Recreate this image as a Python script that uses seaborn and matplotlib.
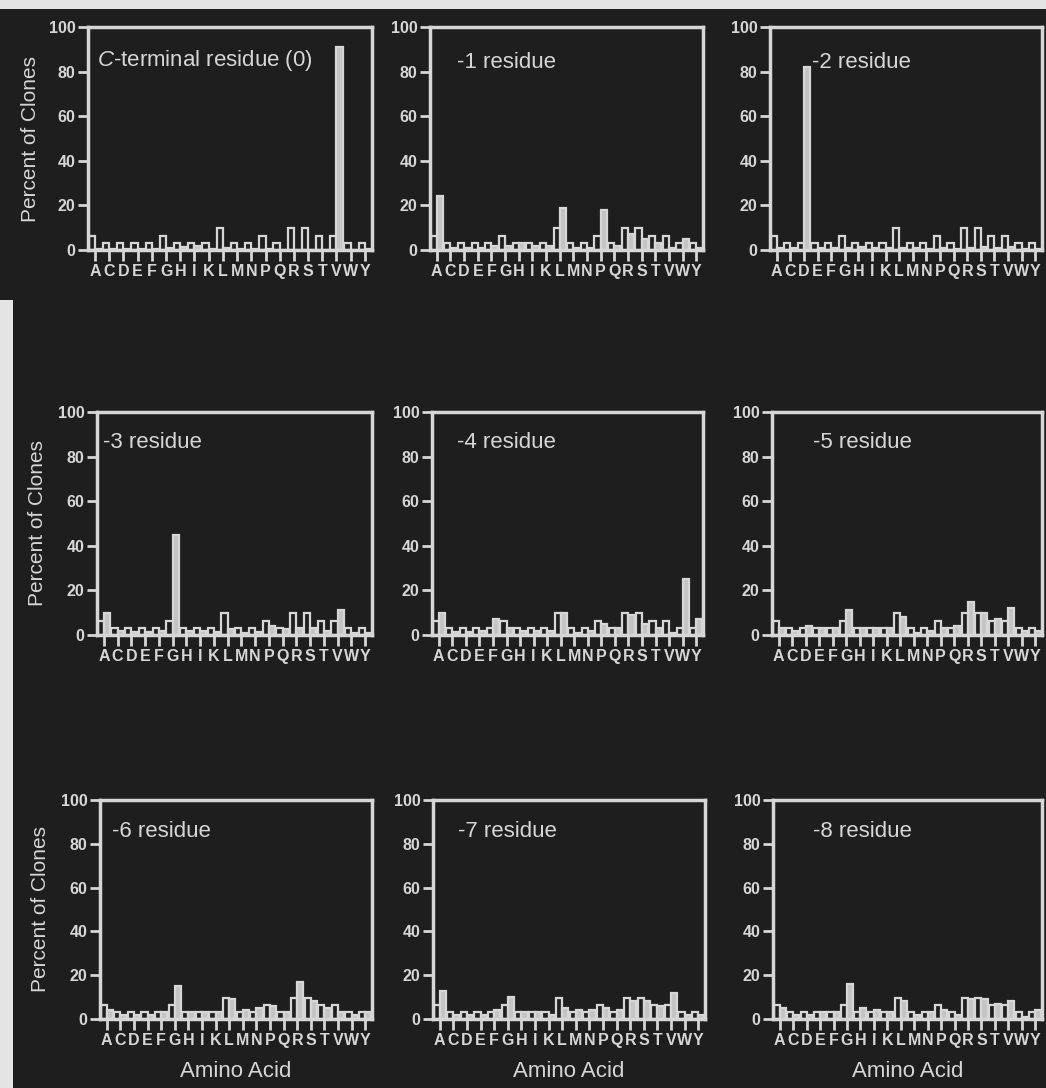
import matplotlib
matplotlib.use("Agg")
import matplotlib.pyplot as plt
import matplotlib.patches as mpatches
import seaborn as sns
import pandas as pd

# ---------------- data ----------------
amino_acids = list("ACDEFGHIKLMNPQRSTVWY")

# open bars: library (expected) frequency, same in every panel
library_pct = [6.5, 3.2, 3.2, 3.2, 3.2, 6.5, 3.2, 3.2, 3.2, 9.7,
               3.2, 3.2, 6.5, 3.2, 9.7, 9.7, 6.5, 6.5, 3.2, 3.2]

# filled bars: selected clones at each position
pos_0 = [0.5, 0.5, 0.5, 0.5, 0.5, 1, 1.5, 2, 0.5, 1,
         0.5, 0.5, 0.5, 0, 0, 0, 0, 91, 0, 0.5]
pos_m1 = [24, 1, 1, 1, 2, 2, 3, 2, 2, 19,
          1, 1, 18, 2, 7, 5, 3, 1, 5, 1]
pos_m2 = [1, 1, 82, 1, 1, 1, 1.5, 1, 1, 1,
          1, 0.5, 1, 0.5, 1, 1.5, 1, 1.5, 0.5, 0.5]
pos_m3 = [10, 2, 1.5, 1.5, 2, 45, 2, 2, 1.5, 2.5,
          1, 1.5, 4, 2.5, 3, 3, 2, 11, 1, 1]
pos_m4 = [10, 1.5, 1.5, 2, 7, 3, 2, 2, 2, 10,
          1, 2, 5, 3, 9, 5, 3, 1, 25, 7]
pos_m5 = [3, 2, 4, 3, 3, 11, 3, 3, 3, 8,
          1, 2, 3, 4, 15, 10, 7, 12, 2, 2]
pos_m6 = [4, 2, 2, 2, 3, 15, 3, 3, 3, 9,
          4, 5, 6, 3, 17, 8, 5, 3, 2, 3]
pos_m7 = [13, 2, 2, 2, 4, 10, 3, 3, 2, 5,
          4, 4, 5, 4, 8, 8, 6, 12, 2, 2]
pos_m8 = [5, 2, 2, 3, 3, 16, 5, 4, 3, 8,
          2, 3, 4, 2, 9, 9, 7, 8, 1, 4]

panel_titles = [r"$\mathit{C}$-terminal residue (0)", "-1 residue", "-2 residue",
                "-3 residue", "-4 residue", "-5 residue",
                "-6 residue", "-7 residue", "-8 residue"]
panel_values = [pos_0, pos_m1, pos_m2, pos_m3, pos_m4, pos_m5, pos_m6, pos_m7, pos_m8]
y_ticks = [0, 20, 40, 60, 80, 100]

# ---------------- style ----------------
BG = "#1e1e1e"
LIGHT = "#d6d6d6"
BAR = "#c4c4c4"

sns.set_theme(style="dark", rc={
    "figure.facecolor": BG, "axes.facecolor": BG,
    "axes.edgecolor": LIGHT, "text.color": LIGHT,
    "axes.labelcolor": LIGHT, "xtick.color": LIGHT, "ytick.color": LIGHT,
})
plt.rcParams["font.family"] = ["Liberation Sans", "DejaVu Sans"]
plt.rcParams["mathtext.fontset"] = "custom"
plt.rcParams["mathtext.rm"] = "Liberation Sans"
plt.rcParams["mathtext.it"] = "Liberation Sans:italic"
plt.rcParams["mathtext.bf"] = "Liberation Sans:bold"

W, H = 1046, 1088
fig = plt.figure(figsize=(W / 100, H / 100), dpi=100)
fig.patch.set_facecolor(BG)

# scan borders (light paper edges)
fig.patches.append(mpatches.Rectangle((0, 1 - 9 / H), 1, 9 / H, transform=fig.transFigure,
                                      facecolor="#e4e4e4", edgecolor="none", zorder=-1))
fig.patches.append(mpatches.Rectangle((0, 0), 13 / W, 1 - 300 / H, transform=fig.transFigure,
                                      facecolor="#e4e4e4", edgecolor="none", zorder=-1))

# panel boxes in pixels: left, right, top, bottom
boxes = [(88, 372, 27, 250), (430, 703, 27, 250), (770, 1042, 27, 250),
         (97, 372, 412, 635), (432, 703, 412, 635), (772, 1042, 412, 635),
         (100, 372, 800, 1019), (433, 705, 800, 1019), (773, 1042, 800, 1019)]
title_pos = [(0.03, 0.85), (0.10, 0.84), (0.155, 0.84),
             (0.022, 0.865), (0.092, 0.865), (0.152, 0.865),
             (0.044, 0.855), (0.092, 0.855), (0.149, 0.855)]
ylabel_x = [-0.169, -0.182, -0.184]

for i, (vals, title) in enumerate(zip(panel_values, panel_titles)):
    l, r, t, b = boxes[i]
    ax = fig.add_axes([l / W, 1 - b / H, (r - l) / W, (b - t) / H])
    ax.set_facecolor(BG)
    df = pd.DataFrame({
        "aa": amino_acids * 2,
        "series": ["Library"] * 20 + ["Selected"] * 20,
        "pct": library_pct + vals,
    })
    sns.barplot(data=df, x="aa", y="pct", hue="series", order=amino_acids,
                hue_order=["Library", "Selected"],
                palette={"Library": BG, "Selected": BAR}, saturation=1,
                edgecolor=LIGHT, linewidth=1.6, width=0.9, legend=False,
                ax=ax, zorder=2)
    ax.set_xlim(-0.5, 19.5)
    ax.set_ylim(0, 100)
    ax.set_yticks(y_ticks)
    ax.set_yticklabels([str(v) for v in y_ticks], fontsize=11.5, fontweight="bold")
    ax.set_xticks(range(20))
    ax.set_xticklabels(amino_acids, fontsize=11.5, fontweight="bold")
    ax.tick_params(axis="x", direction="out", length=8, width=2, pad=2, colors=LIGHT,
                   bottom=True)
    ax.tick_params(axis="y", direction="out", length=7, width=2, pad=2, colors=LIGHT,
                   left=True)
    for sp in ax.spines.values():
        sp.set_visible(True)
        sp.set_color(LIGHT)
        sp.set_linewidth(2.5)
    ax.grid(False)
    ax.text(title_pos[i][0], title_pos[i][1], title, transform=ax.transAxes,
            ha="left", va="center", fontsize=16, color=LIGHT)
    if i % 3 == 0:
        ax.set_ylabel("Percent of Clones", fontsize=15, color=LIGHT)
        ax.yaxis.set_label_coords(ylabel_x[i // 3], 0.5)
    else:
        ax.set_ylabel("")
    if i >= 6:
        ax.set_xlabel("Amino Acid", fontsize=16, color=LIGHT)
        ax.xaxis.set_label_coords(0.5, -0.24)
        ax.xaxis.label.set_verticalalignment("center")
    else:
        ax.set_xlabel("")

fig.savefig("out.png", dpi=100, facecolor=BG)
